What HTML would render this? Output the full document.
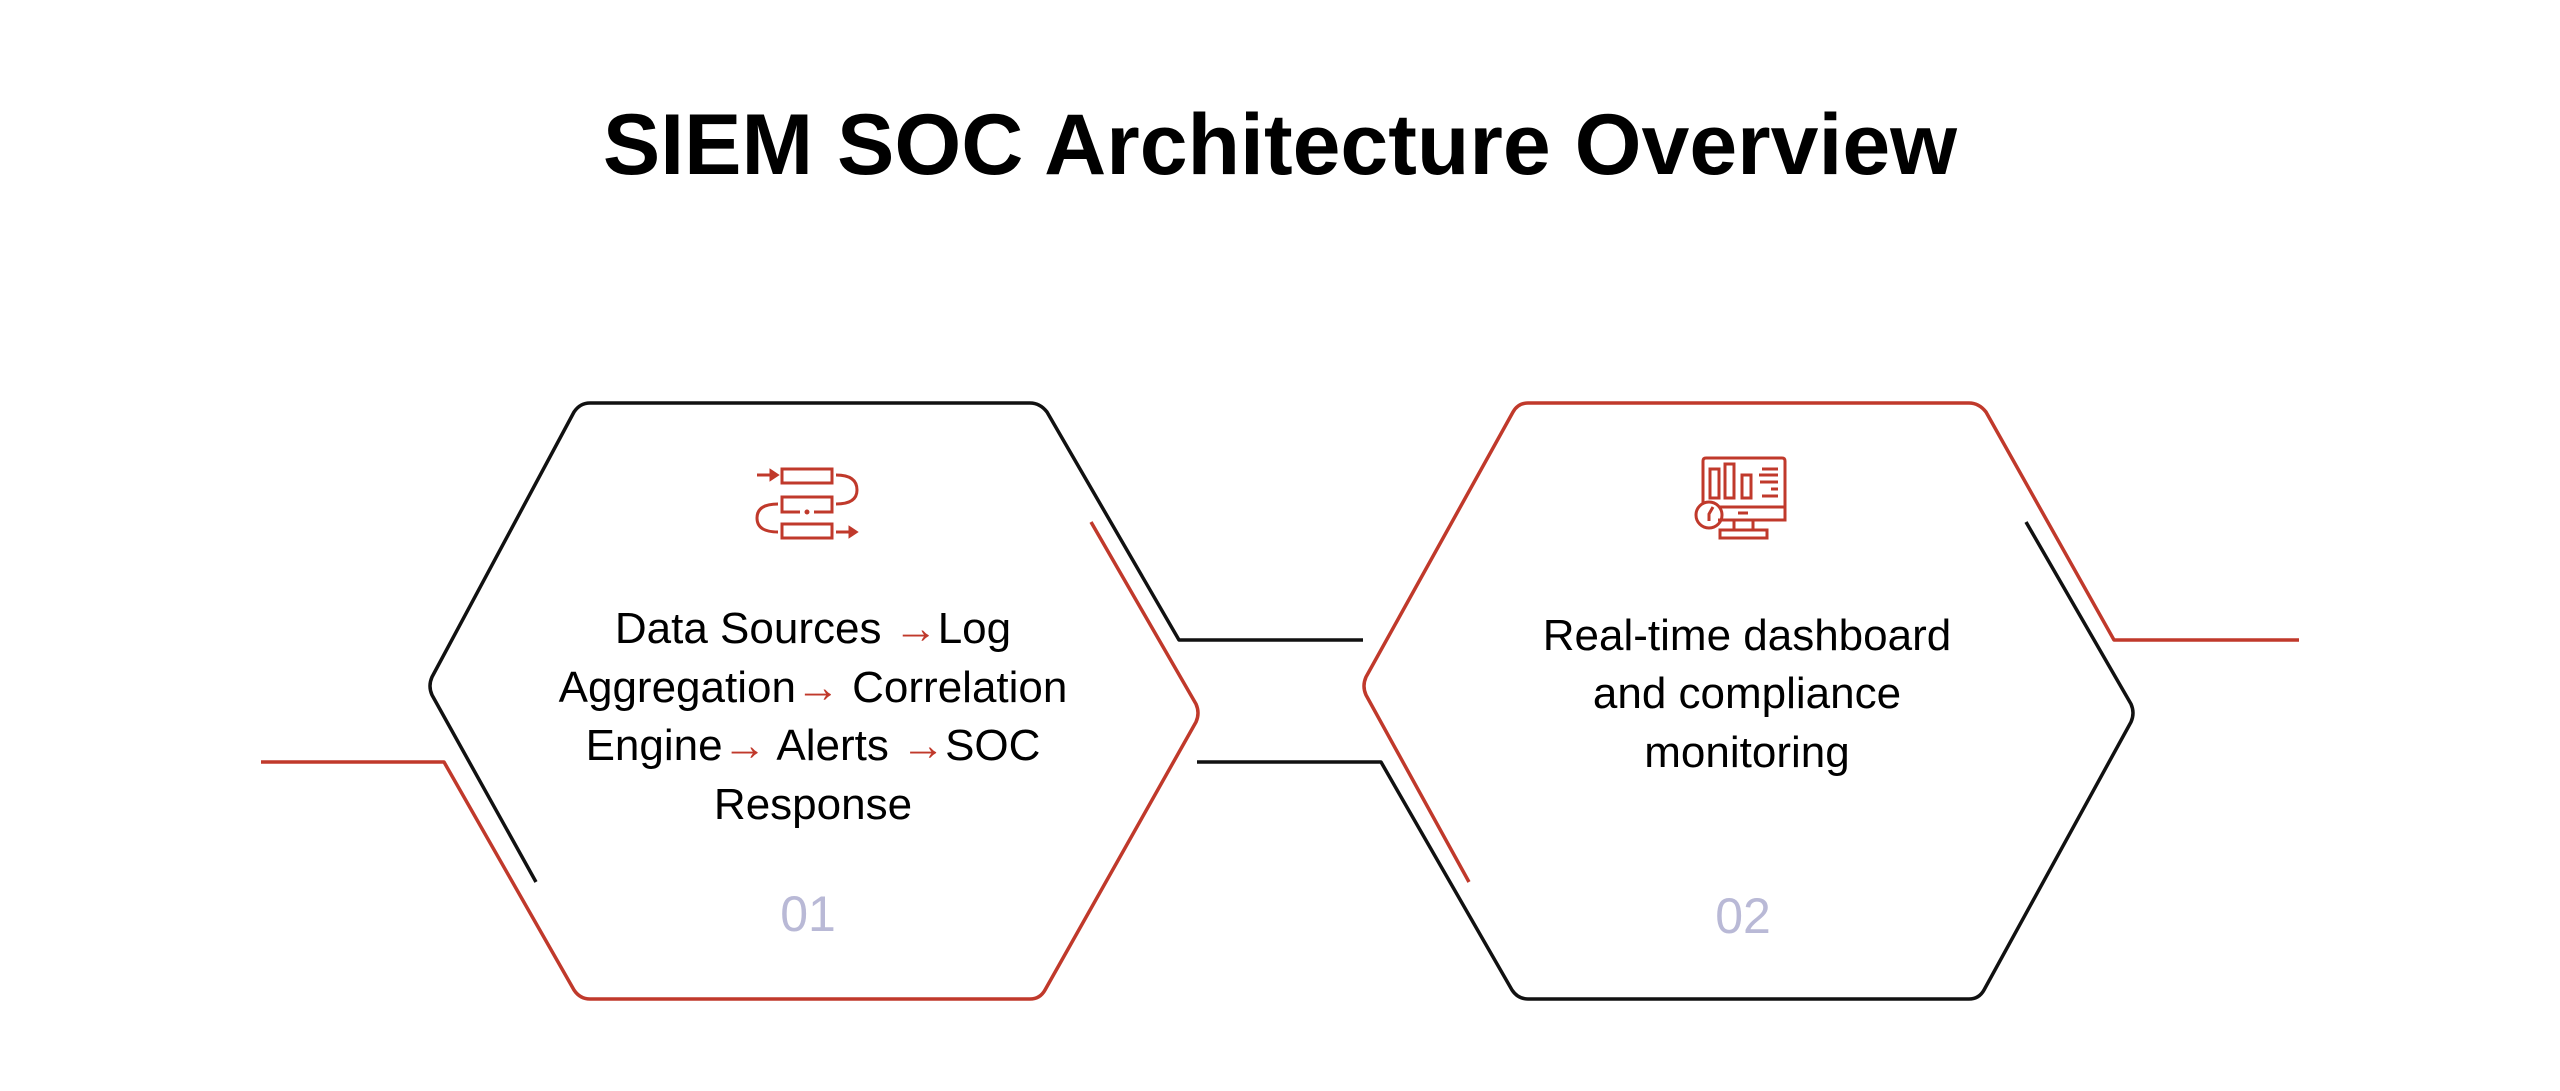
<!DOCTYPE html>
<html><head><meta charset="utf-8"><style>
html,body{margin:0;padding:0;background:#fff;}
svg{display:block;}
text{font-family:"Liberation Sans",sans-serif;}
</style></head><body>
<svg width="2560" height="1091" viewBox="0 0 2560 1091" xmlns="http://www.w3.org/2000/svg">
<text x="1280" y="174" text-anchor="middle" font-size="86" font-weight="bold" fill="#000">SIEM SOC Architecture Overview</text>
<g fill="none" stroke-width="3.5" stroke-linejoin="round">
<path d="M1363,640 L1179,640 L1047,412 Q1040,403 1030,403 L590,403 Q580,403 574,412 L432,677 Q428,686 432,695 L536,882" stroke="#111"/>
<path d="M261,762 L444,762 L574,990 Q580,999 590,999 L1030,999 Q1040,999 1045,990 L1196,722 Q1200,713 1196,704 L1091,522" stroke="#c0392b"/>
<path d="M2299,640 L2114,640 L1986,412 Q1979,403 1969,403 L1528,403 Q1518,403 1513,412 L1366,677 Q1362,686 1366,695 L1469,882" stroke="#c0392b"/>
<path d="M1197,762 L1381,762 L1512,990 Q1518,999 1528,999 L1969,999 Q1979,999 1984,990 L2131,722 Q2135,713 2131,704 L2026,522" stroke="#111"/>
</g>
<g fill="none" stroke="#c0392b" stroke-width="3">
<line x1="757" y1="475" x2="774" y2="475"/><path d="M771,471 L777,475 L771,479Z" fill="#c0392b"/>
<rect x="782" y="469" width="50" height="14"/>
<path d="M836,475 Q857,475 857,490 Q857,504 836,504"/>
<path d="M800,512 L782,512 L782,497 L832,497 L832,512 L814,512"/>
<circle cx="807" cy="512" r="1" fill="#c0392b"/>
<path d="M778,504 Q757,504 757,518 Q757,532 778,532"/>
<rect x="782" y="524" width="50" height="14"/>
<line x1="836" y1="532" x2="852" y2="532"/><path d="M850,528 L856,532 L850,536Z" fill="#c0392b"/>
</g>
<g fill="none" stroke="#c0392b" stroke-width="3">
<path d="M1718,520 L1785,520 L1785,461 Q1785,458 1782,458 L1706,458 Q1703,458 1703,461 L1703,504"/>
<line x1="1720" y1="507" x2="1785" y2="507"/>
<rect x="1710" y="469" width="9" height="29"/>
<rect x="1725" y="464" width="9" height="34"/>
<rect x="1742" y="475" width="9" height="23"/>
<line x1="1762" y1="469" x2="1778" y2="469"/>
<line x1="1759" y1="475" x2="1778" y2="475"/>
<line x1="1760" y1="482" x2="1778" y2="482"/>
<line x1="1771" y1="489" x2="1778" y2="489"/>
<line x1="1762" y1="496" x2="1778" y2="496"/>
<circle cx="1709" cy="515" r="13"/>
<path d="M1713,507 L1709,514 L1709,521"/>
<line x1="1738" y1="513" x2="1748" y2="513"/>
<rect x="1734" y="520" width="19" height="10"/>
<rect x="1720" y="530" width="47" height="8"/>
</g>
<g font-size="44" fill="#000" text-anchor="middle">
<text x="813" y="643">Data Sources <tspan fill="#c0392b">→</tspan>Log</text>
<text x="813" y="702">Aggregation<tspan fill="#c0392b">→</tspan> Correlation</text>
<text x="813" y="760">Engine<tspan fill="#c0392b">→</tspan> Alerts <tspan fill="#c0392b">→</tspan>SOC</text>
<text x="813" y="819">Response</text>
<text x="1747" y="650">Real-time dashboard</text>
<text x="1747" y="708">and compliance</text>
<text x="1747" y="767">monitoring</text>
</g>
<g font-size="50" fill="#b9b9d6" text-anchor="middle">
<text x="808" y="931">01</text>
<text x="1743" y="933">02</text>
</g>
</svg>
</body></html>
